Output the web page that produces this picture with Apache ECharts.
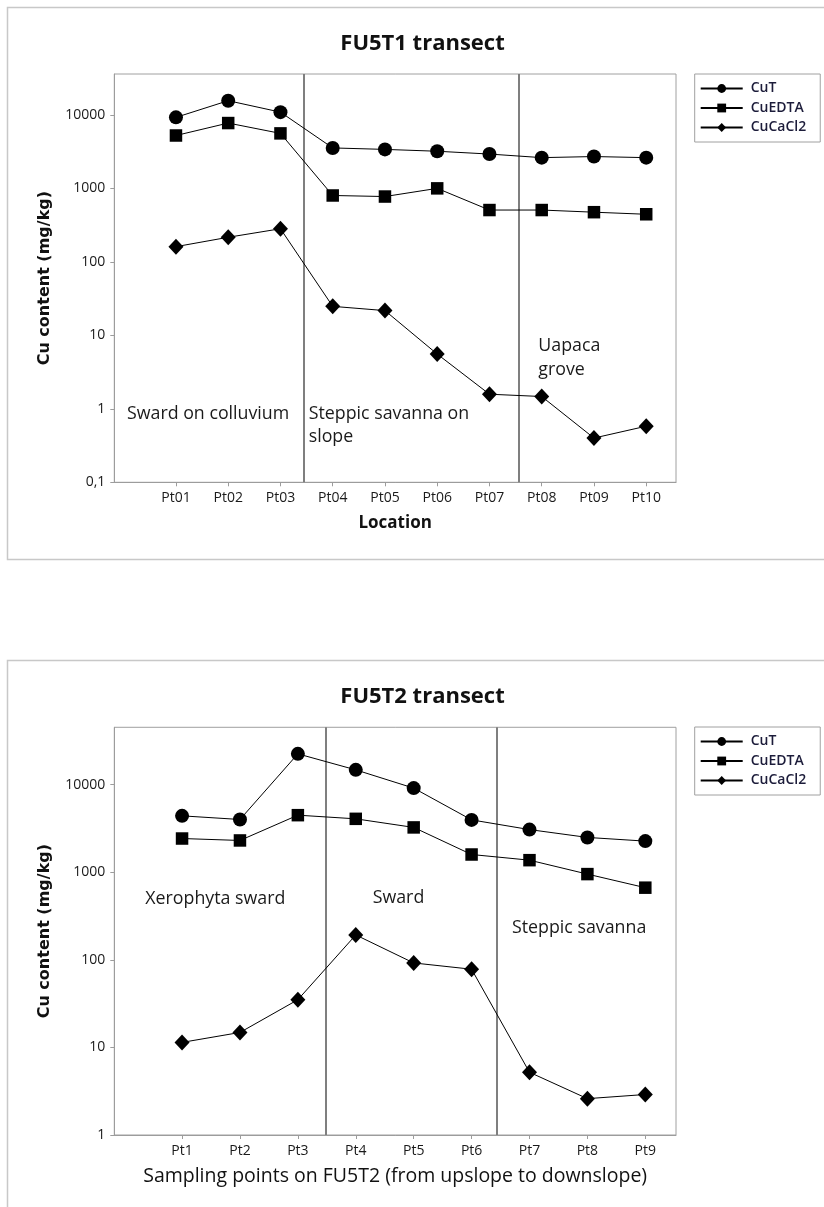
<!DOCTYPE html>
<html>
<head>
<meta charset="utf-8">
<script src="https://cdn.jsdelivr.net/npm/echarts@6/dist/echarts.min.js"></script>
<style>
html,body{margin:0;padding:0;background:#fff;}
#chart{width:824px;height:1207px;}
</style>
</head>
<body>
<div id="chart"></div>
<script>
// ---------- data ----------
const seriesNames = ['CuT', 'CuEDTA', 'CuCaCl2'];

// FU5T1 transect
const cats1 = ['Pt01', 'Pt02', 'Pt03', 'Pt04', 'Pt05', 'Pt06', 'Pt07', 'Pt08', 'Pt09', 'Pt10'];
const cuT1 = [9250, 15600, 10900, 3550, 3390, 3200, 2930, 2620, 2710, 2620];
const cuEDTA1 = [5240, 7740, 5600, 800, 774, 1000, 507, 507, 474, 444];
const cuCaCl2_1 = [161, 216, 282, 24.8, 21.7, 5.56, 1.58, 1.47, 0.40, 0.58];
const yTicks1 = [0.1, 1, 10, 100, 1000, 10000];
const dividers1 = [3.44, 7.57];

// FU5T2 transect
const cats2 = ['Pt1', 'Pt2', 'Pt3', 'Pt4', 'Pt5', 'Pt6', 'Pt7', 'Pt8', 'Pt9'];
const cuT2 = [4390, 3990, 22400, 14700, 9100, 3950, 3060, 2490, 2260];
const cuEDTA2 = [2420, 2300, 4470, 4060, 3240, 1590, 1370, 950, 665];
const cuCaCl2_2 = [11.4, 14.8, 35, 192, 92, 78, 5.2, 2.6, 2.9];
const yTicks2 = [1, 10, 100, 1000, 10000];
const dividers2 = [3.49, 6.44];

// ---------- styles ----------
const FONT = 'Open Sans';
const TXT = '#1a1a1a';
const AXIS_GREY = '#9c9c9c';
const symbols = ['circle', 'rect', 'diamond'];
const symbolSizes = [14, 12.5, [15, 16]];

function toPairs(vals) { return vals.map((v, i) => [i + 1, v]); }
function fmtLog(v) {
  const lg = Math.log10(v);
  if (Math.abs(lg - Math.round(lg)) > 1e-6) return '';
  return String(v).replace('.', ',');
}

function xAxisFor(gi, cats, min, max, name, bold) {
  const idx = cats.map((_, i) => i + 1);
  return {
    type: 'value', gridIndex: gi, min: min, max: max,
    axisLine: { show: true, onZero: false, lineStyle: { color: AXIS_GREY, width: 1 } },
    axisTick: { show: true, customValues: idx, length: 4, lineStyle: { color: AXIS_GREY } },
    axisLabel: { customValues: idx, formatter: v => cats[Math.round(v) - 1] || '', margin: 9,
      fontSize: 14, fontFamily: FONT, color: TXT },
    splitLine: { show: false },
    name: name, nameLocation: 'middle', nameGap: bold ? 32 : 31,
    nameTextStyle: { fontFamily: FONT, fontSize: bold ? 17 : 19.5, fontWeight: bold ? 'bold' : 'normal', color: '#111' }
  };
}
function yAxisFor(gi, min, max, ticks) {
  return {
    type: 'log', logBase: 10, gridIndex: gi, min: min, max: max,
    axisLine: { show: true, onZero: false, lineStyle: { color: AXIS_GREY, width: 1 } },
    axisTick: { show: true, length: 4, customValues: ticks, lineStyle: { color: AXIS_GREY } },
    axisLabel: { formatter: fmtLog, margin: 9, fontSize: 14, fontFamily: FONT, color: TXT, showMaxLabel: false },
    splitLine: { show: false },
    name: 'Cu content (mg/kg)', nameLocation: 'middle', nameGap: 61,
    nameTextStyle: { fontFamily: 'DejaVu Sans', fontSize: 16, fontWeight: 'bold', color: '#111' }
  };
}
function makeSeries(gi, arrays, dividers) {
  return arrays.map((vals, k) => {
    const s = {
      name: seriesNames[k], type: 'line', xAxisIndex: gi, yAxisIndex: gi,
      data: toPairs(vals),
      symbol: symbols[k], symbolSize: symbolSizes[k],
      itemStyle: { color: '#000' },
      lineStyle: { color: '#000', width: 1 },
      z: 3
    };
    if (k === 0) {
      s.markLine = {
        silent: true, symbol: ['none', 'none'], label: { show: false },
        lineStyle: { color: '#7f7f7f', width: 2, type: 'solid' },
        data: dividers.map(d => ({ xAxis: d })),
        z: 2
      };
    }
    return s;
  });
}
function legendFor(top) {
  return {
    data: seriesNames, orient: 'vertical', left: 694.7, top: top,
    padding: [7, 14, 7, 5], itemGap: 4.5, itemWidth: 42, itemHeight: 11,
    borderColor: '#a0a0a0', borderWidth: 1,
    textStyle: { fontFamily: FONT, fontSize: 14, fontWeight: 600, color: '#1c1c3a', lineHeight: 15, padding: [0, 0, 0, 3] }
  };
}
function annot(x, y, text, lh) {
  return {
    type: 'text', x: x, y: y, silent: true,
    style: { text: text, fontFamily: FONT, fontSize: 17.8, fill: TXT,
      verticalAlign: lh ? 'top' : 'middle', lineHeight: lh || 20 }
  };
}

const option = {
  animation: false,
  backgroundColor: '#ffffff',
  title: [
    { text: 'FU5T1 transect', left: 422.5, top: 43.8, textAlign: 'center', textVerticalAlign: 'middle', padding: 0,
      textStyle: { fontFamily: FONT, fontSize: 22, fontWeight: 'bold', color: '#111' } },
    { text: 'FU5T2 transect', left: 422.5, top: 696.5, textAlign: 'center', textVerticalAlign: 'middle', padding: 0,
      textStyle: { fontFamily: FONT, fontSize: 22, fontWeight: 'bold', color: '#111' } }
  ],
  legend: [legendFor(74), legendFor(727)],
  grid: [
    { left: 114.3, top: 74, width: 561.7, height: 408.3, show: true, borderColor: '#a0a0a0', borderWidth: 1 },
    { left: 114.3, top: 727.3, width: 561.7, height: 407.7, show: true, borderColor: '#a0a0a0', borderWidth: 1 }
  ],
  xAxis: [
    xAxisFor(0, cats1, -0.18, 10.57, 'Location', true),
    xAxisFor(1, cats2, -0.17, 9.53, 'Sampling points on FU5T2 (from upslope to downslope)', false)
  ],
  yAxis: [
    yAxisFor(0, 0.1, 36000, yTicks1),
    yAxisFor(1, 1, 45000, yTicks2)
  ],
  series: [].concat(
    makeSeries(0, [cuT1, cuEDTA1, cuCaCl2_1], dividers1),
    makeSeries(1, [cuT2, cuEDTA2, cuCaCl2_2], dividers2)
  ),
  graphic: [
    { type: 'rect', silent: true, z: -10, shape: { x: 7.5, y: 7.5, width: 840, height: 552 },
      style: { fill: 'none', stroke: '#c8c8c8', lineWidth: 1.5 } },
    { type: 'rect', silent: true, z: -10, shape: { x: 7.5, y: 660.5, width: 840, height: 570 },
      style: { fill: 'none', stroke: '#c8c8c8', lineWidth: 1.5 } },
    annot(127, 413.9, 'Sward on colluvium'),
    annot(308.7, 402.5, 'Steppic savanna on\nslope', 22.7),
    annot(538.3, 334.5, 'Uapaca\ngrove', 23.4),
    annot(145.3, 898.6, 'Xerophyta sward'),
    annot(372.7, 897.5, 'Sward'),
    annot(512, 928.2, 'Steppic savanna')
  ]
};

const chart = echarts.init(document.getElementById('chart'), null, { renderer: 'canvas' });
chart.setOption(option);
</script>
</body>
</html>
